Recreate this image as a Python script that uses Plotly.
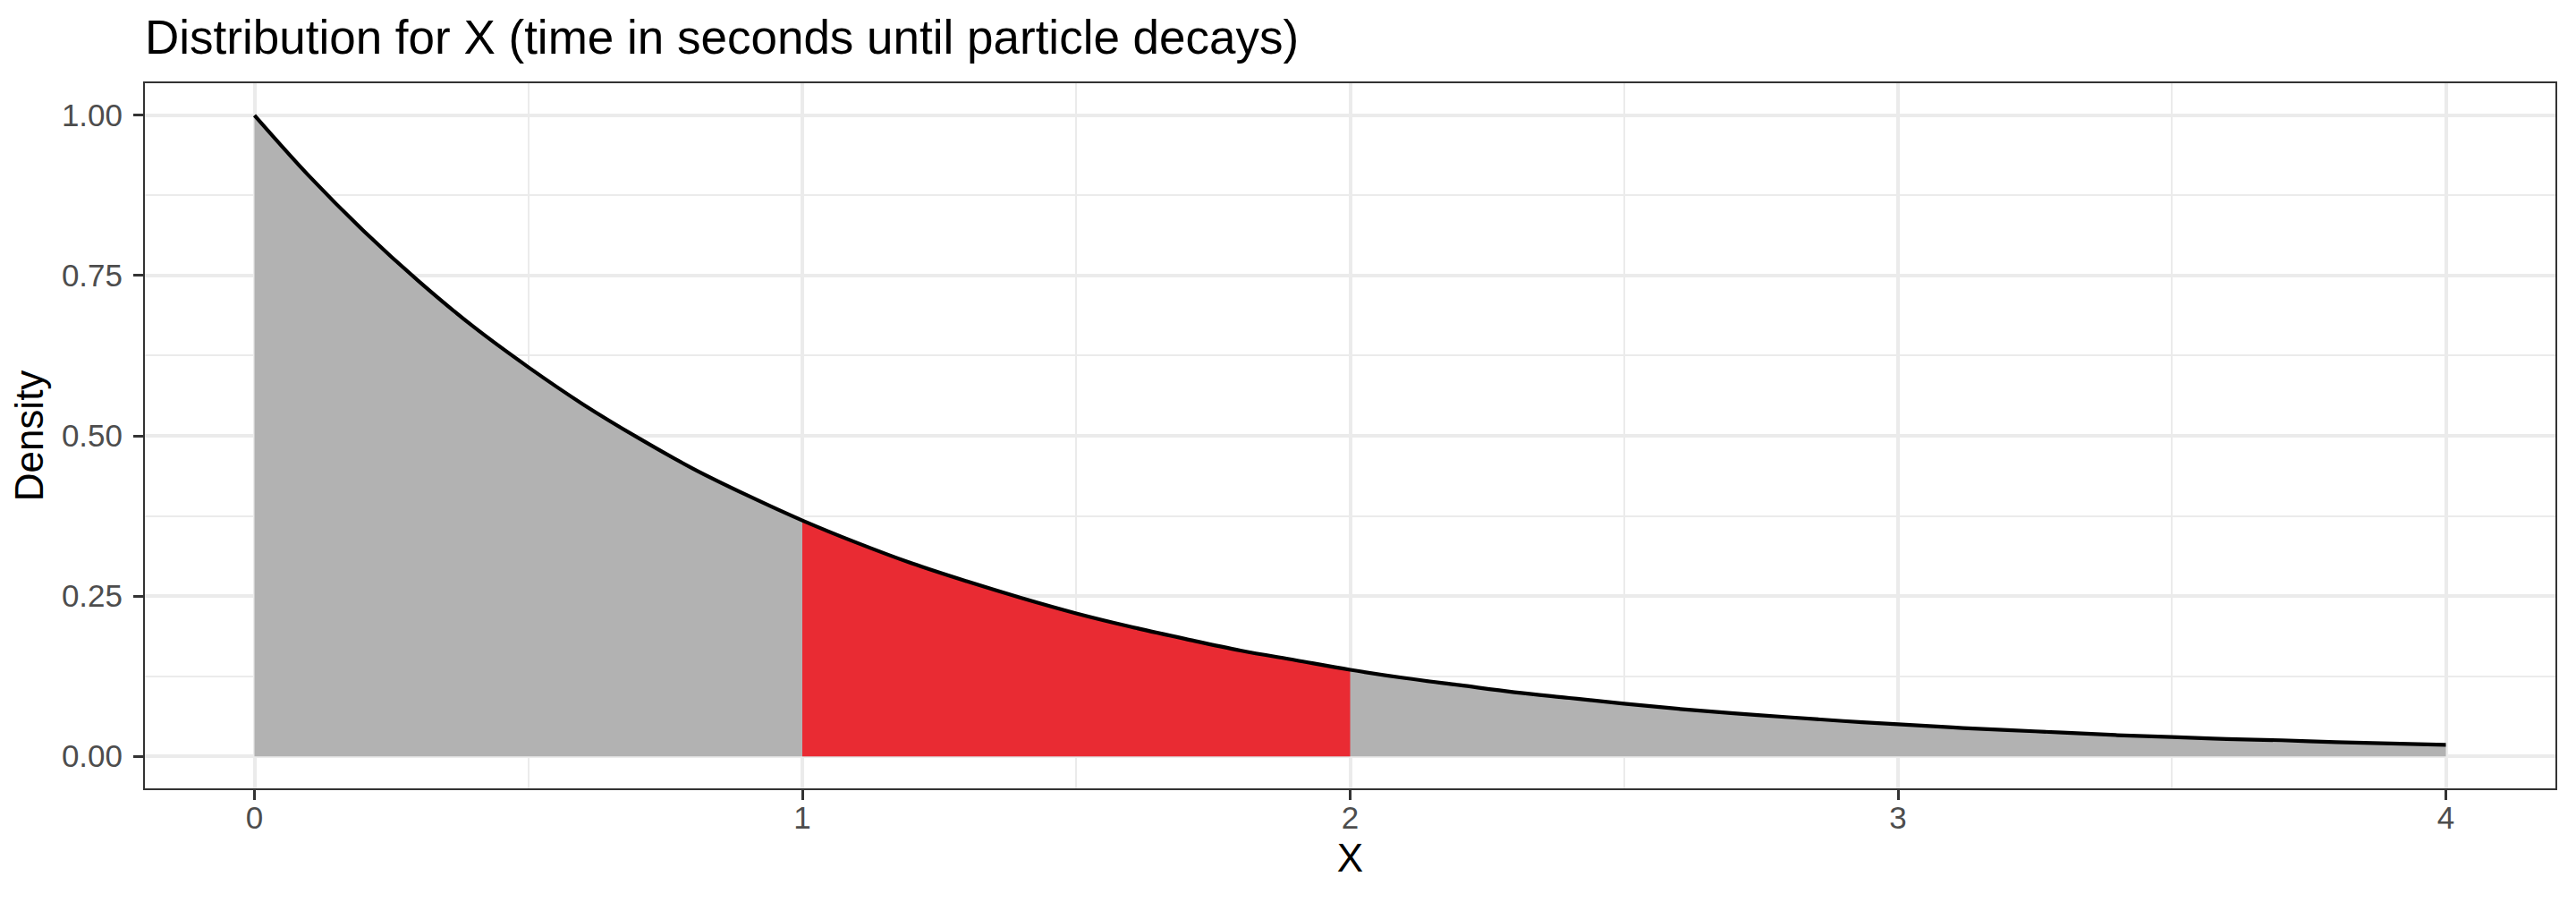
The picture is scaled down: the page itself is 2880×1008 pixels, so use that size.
import plotly.graph_objects as go

# Values
x_vals = [0.0, 0.1, 0.2, 0.3, 0.4, 0.5, 0.6, 0.7, 0.8, 0.9,
          1.0, 1.1, 1.2, 1.3, 1.4, 1.5, 1.6, 1.7, 1.8, 1.9,
          2.0, 2.1, 2.2, 2.3, 2.4, 2.5, 2.6, 2.7, 2.8, 2.9,
          3.0, 3.1, 3.2, 3.3, 3.4, 3.5, 3.6, 3.7, 3.8, 3.9, 4.0]
density = [1.000, 0.905, 0.819, 0.741, 0.670, 0.607, 0.549, 0.497, 0.449, 0.407,
           0.368, 0.333, 0.301, 0.273, 0.247, 0.223, 0.202, 0.183, 0.165, 0.150,
           0.135, 0.122, 0.111, 0.100, 0.091, 0.082, 0.074, 0.067, 0.061, 0.055,
           0.050, 0.045, 0.041, 0.037, 0.033, 0.030, 0.027, 0.025, 0.022, 0.020, 0.018]
shade_from = 1.0
shade_to = 2.0
x_ticks = [0, 1, 2, 3, 4]
y_ticks = [0.0, 0.25, 0.50, 0.75, 1.00]
y_tick_labels = ["0.00", "0.25", "0.50", "0.75", "1.00"]

red_x = [x for x in x_vals if shade_from - 1e-9 <= x <= shade_to + 1e-9]
red_y = [d for x, d in zip(x_vals, density) if shade_from - 1e-9 <= x <= shade_to + 1e-9]

FONT = "Liberation Sans, Arial, sans-serif"
SPL = dict(shape="spline", smoothing=1.0)

fig = go.Figure()
fig.add_trace(go.Scatter(x=x_vals, y=density, mode="lines", fill="tozeroy",
                         fillcolor="#B2B2B2", line=dict(width=0, **SPL),
                         hoverinfo="skip", showlegend=False))
fig.add_trace(go.Scatter(x=red_x, y=red_y, mode="lines", fill="tozeroy",
                         fillcolor="#E92B33", line=dict(width=0, **SPL),
                         hoverinfo="skip", showlegend=False))
fig.add_trace(go.Scatter(x=x_vals, y=density, mode="lines",
                         line=dict(color="black", width=4.2, **SPL),
                         showlegend=False))

axis_common = dict(
    showline=True, linecolor="#333333", linewidth=2, mirror=True,
    ticks="outside", ticklen=11, tickwidth=3, tickcolor="#333333",
    showgrid=True, gridcolor="#EBEBEB", gridwidth=4,
    zeroline=False, automargin=False,
    tickfont=dict(family=FONT, size=35, color="#4D4D4D"),
)

fig.update_xaxes(
    range=[-0.2, 4.2], tickvals=x_ticks, ticktext=[str(v) for v in x_ticks],
    minor=dict(showgrid=True, gridcolor="#EBEBEB", gridwidth=2, tick0=0, dtick=0.5, ticks=""),
    title=dict(text="X", font=dict(family=FONT, size=44, color="black"), standoff=11),
    ticklabelstandoff=-10,
    **axis_common,
)
fig.update_yaxes(
    range=[-0.05, 1.05], tickvals=y_ticks, ticktext=y_tick_labels,
    minor=dict(showgrid=True, gridcolor="#EBEBEB", gridwidth=2, tick0=0, dtick=0.125, ticks=""),
    title=dict(text="Density", font=dict(family=FONT, size=44, color="black"), standoff=6),
    ticklabelstandoff=5,
    **axis_common,
)

fig.update_layout(
    width=2880, height=1008, autosize=False,
    paper_bgcolor="white", plot_bgcolor="white",
    margin=dict(l=162, r=23, t=93, b=127),
    title=dict(text="Distribution for X (time in seconds until particle decays)",
               font=dict(family=FONT, size=53, color="black"),
               x=162 / 2880, xref="container", xanchor="left",
               y=1 - 41 / 1008, yref="container", yanchor="middle"),
)

fig.write_html("out.html", config={"displayModeBar": False},
               post_script="document.body.style.margin='0';")
